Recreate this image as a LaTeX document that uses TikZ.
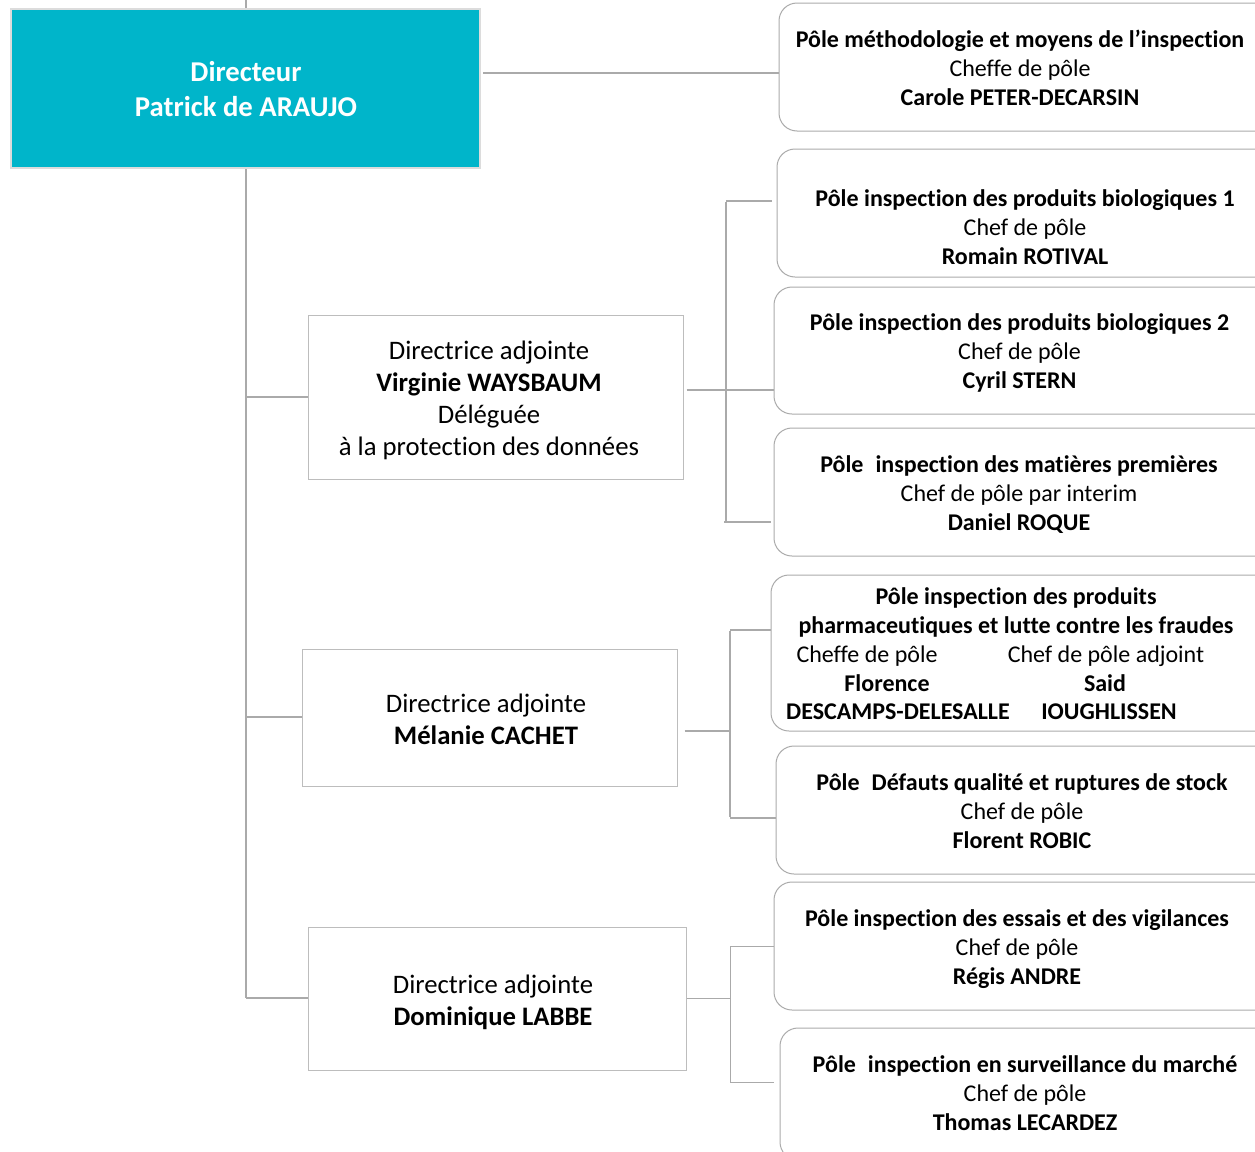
\documentclass[tikz,border=0pt]{standalone}
\usepackage{fontspec}
\setmainfont{Carlito}[Ligatures=NoCommon]
\definecolor{dircol}{HTML}{00B5CA}
\definecolor{dirborder}{HTML}{DCDCDC}
\definecolor{linecol}{HTML}{AAAAAA}
\definecolor{boxline}{HTML}{ABABAB}
\definecolor{depline}{HTML}{BDBDBD}
\begin{document}
\begin{tikzpicture}[x=1pt,y=-1pt,
  dirbox/.style={draw=dirborder, line width=2pt, fill=dircol, inner sep=0pt},
  depbox/.style={draw=depline, line width=1pt, fill=white, inner sep=0pt},
  polebox/.style={draw=boxline, line width=1pt, rounded corners=18pt, fill=white, inner sep=0pt},
  poletxt/.style={align=center, inner sep=0pt, font=\fontsize{24}{29}\selectfont},
  deptxt/.style={align=center, inner sep=0pt, font=\fontsize{26.7}{32}\selectfont},
  dirtxt/.style={align=center, inner sep=0pt, text=white, font=\fontsize{28.7}{35}\selectfont\bfseries},
  conn/.style={draw=linecol, line width=2pt},
  connthick/.style={draw=linecol, line width=2.6pt},
  connthin/.style={draw=linecol, line width=1pt}
]
\clip (0,0) rectangle (1255,1151);
\fill[white] (0,0) rectangle (1255,1151);

% junction coordinates
\coordinate (top) at (246,0);
\coordinate (j1) at (246,397);
\coordinate (j2) at (246,717);
\coordinate (j3) at (246,998);
\coordinate (y73) at (0,73);

% main trunk
\draw[conn] (top) -- (j3);

% boxes
\node[dirbox, minimum width=469pt, minimum height=159pt] (dir) at (245.5,88.5) {};
\node[depbox, minimum width=375pt, minimum height=164pt] (d1) at (495.5,397) {};
\node[depbox, minimum width=375pt, minimum height=137pt] (d2) at (489.5,717.5) {};
\node[depbox, minimum width=378pt, minimum height=143pt] (d3) at (497,998.5) {};

\node[polebox, minimum width=496pt, minimum height=128pt] (p1) at (1027,67) {};
\node[polebox, minimum width=498pt, minimum height=128pt] (p2) at (1026,213) {};
\node[polebox, minimum width=501pt, minimum height=127pt] (p3) at (1024.5,350.5) {};
\node[polebox, minimum width=501pt, minimum height=128pt] (p4) at (1024.5,492) {};
\node[polebox, minimum width=504pt, minimum height=156pt] (p5) at (1023,653) {};
\node[polebox, minimum width=499pt, minimum height=128pt] (p6) at (1025.5,810) {};
\node[polebox, minimum width=501pt, minimum height=128pt] (p7) at (1024.5,946) {};
\node[polebox, minimum width=495pt, minimum height=132pt] (p8) at (1027.5,1094) {};

% trunk branches
\draw[conn] (j1) -- (d1.west);
\draw[conn] (j2) -- (d2.west |- j2);
\draw[conn] (j3) -- (d3.west |- j3);
\draw[conn] ([xshift=2pt]dir.east |- y73) -- (p1.west |- y73);

% D1 bracket
\coordinate (a0) at (726,390);
\coordinate (a1) at (726,201);
\coordinate (a2) at (726,522);
\draw[connthick] ([xshift=3pt]d1.east |- a0) -- (p3.west |- a0);
\draw[connthick] ([yshift=-1pt]a1) -- ([yshift=1pt]a2);
\draw[connthick] (a1) -- ([xshift=-5pt]p2.west |- a1);
\draw[connthick] ([xshift=-2pt]a2) -- ([xshift=-3pt]p4.west |- a2);

% D2 bracket
\coordinate (b0) at (730,731);
\coordinate (b1) at (730,630);
\coordinate (b2) at (730,818);
\draw[connthick] ([xshift=7pt]d2.east |- b0) -- (b0);
\draw[connthick] ([yshift=-1pt]b1) -- ([yshift=1pt]b2);
\draw[connthick] (b1) -- (p5.west |- b1);
\draw[connthick] (b2) -- (p6.west |- b2);

% D3 bracket
\coordinate (c0) at (730,998);
\coordinate (c1) at (730,946);
\coordinate (c2) at (730,1082);
\draw[connthin] (d3.east |- c0) -- (c0);
\draw[connthin] (c1) -- (c2);
\draw[connthin] (c1) -- (p7.west |- c1);
\draw[connthin] (c2) -- ([xshift=-6pt]p8.west |- c2);

% texts
\node[dirtxt] (tdir) at (246,89.5) {Directeur\\Patrick de ARAUJO};

\node[deptxt] (td1) at (489,400) {Directrice adjointe\\\textbf{Virginie WAYSBAUM}\\Déléguée\\à la protection des données};
\node[deptxt] (td2) at (486,719) {Directrice adjointe\\\textbf{Mélanie CACHET}};
\node[deptxt] (td3) at (493,1002) {Directrice adjointe\\\textbf{Dominique LABBE}};

\node[poletxt] (tp1) at (1020,68) {\textbf{Pôle méthodologie et moyens de l’inspection}\\Cheffe de pôle\\\textbf{Carole PETER-DECARSIN}};
\node[poletxt] (tp2) at (1025,227) {\textbf{Pôle inspection des produits biologiques 1}\\Chef de pôle\\\textbf{Romain ROTIVAL}};
\node[poletxt] (tp3) at (1019.5,353) {\textbf{Pôle inspection des produits biologiques 2}\\Chef de pôle\\\textbf{Cyril STERN}};
\node[poletxt] (tp4) at (1019,495) {\textbf{Pôle\hspace{0.5em}inspection des matières premières}\\Chef de pôle par interim\\\textbf{Daniel ROQUE}};
\node[poletxt] (tp5) at (1016,612.5) {\textbf{Pôle inspection des produits}\\\textbf{pharmaceutiques et lutte contre les fraudes}};
\node[poletxt] (tp5a) at (867,656) {Cheffe de pôle};
\node[poletxt] (tp5b) at (887,683) {\textbf{Florence}};
\node[poletxt] (tp5c) at (898,712) {\textbf{DESCAMPS-DELESALLE}};
\node[poletxt] (tp5d) at (1106,656) {Chef de pôle adjoint};
\node[poletxt] (tp5e) at (1105,683) {\textbf{Said}};
\node[poletxt] (tp5f) at (1109,712) {\textbf{IOUGHLISSEN}};
\node[poletxt] (tp6) at (1022,811) {\textbf{Pôle\hspace{0.5em}Défauts qualité et ruptures de stock}\\Chef de pôle\\\textbf{Florent ROBIC}};
\node[poletxt] (tp7) at (1017,949) {\textbf{Pôle inspection des essais et des vigilances}\\Chef de pôle\\\textbf{Régis ANDRE}};
\node[poletxt] (tp8) at (1025,1093) {\textbf{Pôle\hspace{0.5em}inspection en surveillance du marché}\\Chef de pôle\\\textbf{Thomas LECARDEZ}};
\end{tikzpicture}
\end{document}
